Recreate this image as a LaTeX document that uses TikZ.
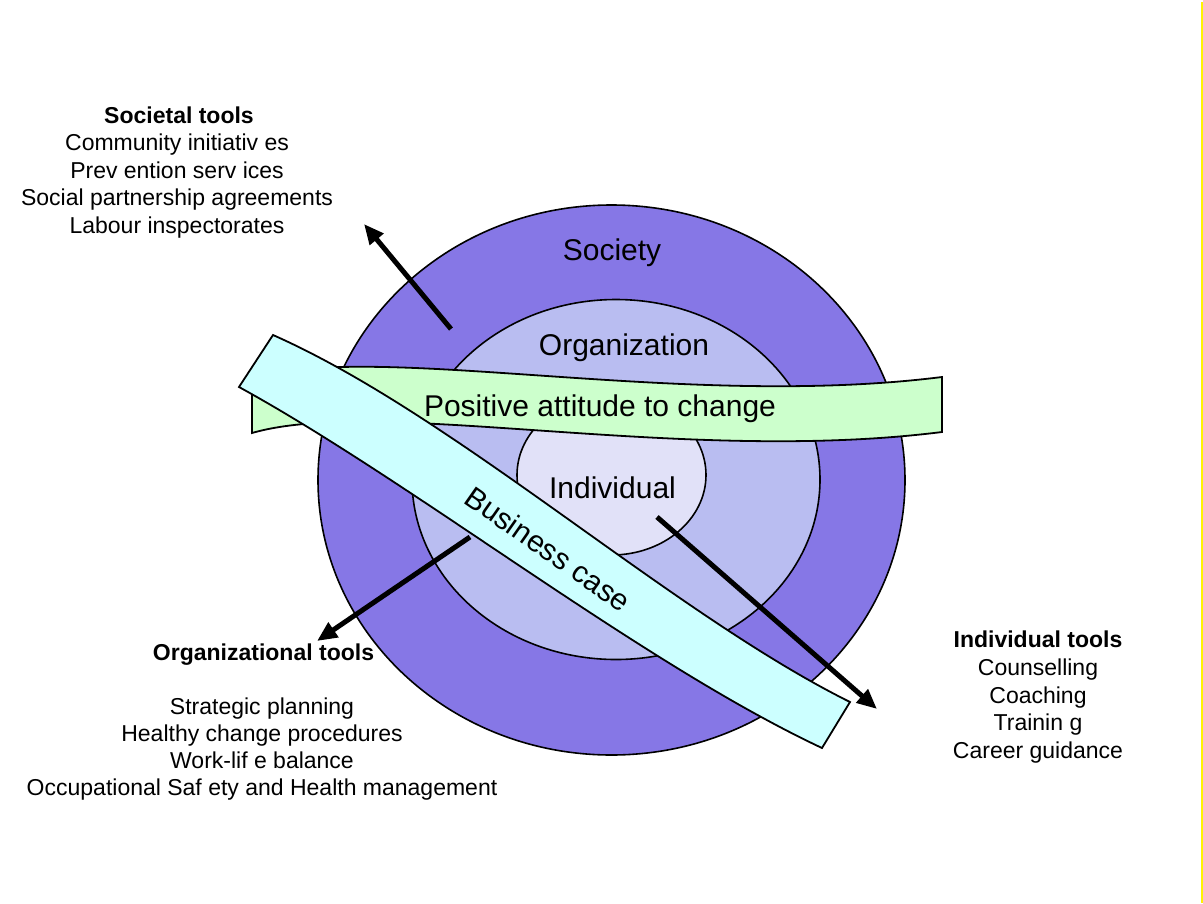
\documentclass[tikz,border=0pt]{standalone}
\usepackage{fontspec}
\setmainfont{Liberation Sans}
\usetikzlibrary{arrows.meta}
\definecolor{socfill}{RGB}{134,119,230}
\definecolor{orgfill}{RGB}{185,189,241}
\definecolor{indfill}{RGB}{225,225,248}
\definecolor{greenband}{RGB}{204,255,204}
\definecolor{cyanband}{RGB}{204,255,255}
\begin{document}
\begin{tikzpicture}[x=1pt,y=-1pt,
  ring/.style={draw=black, line width=1.6pt},
  band/.style={draw=black, line width=1.8pt, line join=miter},
  biglabel/.style={font=\fontsize{30}{36}\selectfont, inner sep=0pt, anchor=base},
  toolline/.style={font=\fontsize{23}{27}\selectfont, inner sep=0pt, anchor=base},
  toolhead/.style={font=\fontsize{23}{27}\selectfont\bfseries, inner sep=0pt, anchor=base},
  toolarrow/.style={line width=5pt, -{Triangle[length=20pt,width=17pt]}}
]
\useasboundingbox (0,0) rectangle (1203,903);
\fill[white] (0,0) rectangle (1203,903);
\draw[yellow, line width=2pt] (1201.5,2) -- (1201.5,903);

% rings
\draw[ring, fill=socfill] (611.5,480) ellipse [x radius=293.5pt, y radius=275pt];
\draw[ring, fill=orgfill] (616,479.5) ellipse [x radius=204pt, y radius=180pt];
\draw[ring, fill=indfill] (611.5,475) ellipse [x radius=94.5pt, y radius=80pt];

\node[biglabel] (society) at (612,260) {Society};
\node[biglabel] (organization) at (624,355) {Organization};
\node[biglabel] (individual) at (612.5,498) {Individual};

% arrow end points
\coordinate (socS) at (451,329);
\coordinate (socE) at (364,224);
\coordinate (orgS) at (470,537);
\coordinate (orgE) at (317,641);
\coordinate (indS) at (657,517);
\coordinate (indE) at (877,709);

% green band
\draw[band, fill=greenband] (252,378) .. controls (380,341) and (680,410) .. (942,377)
  -- (942,432) .. controls (680,465) and (380,396) .. (252,433) -- cycle;
\node[biglabel] (positive) at (600,416) {Positive attitude to change};

% cyan band
\draw[band, fill=cyanband] (273,335) .. controls (456,416) and (671,613) .. (850,702)
  -- (822,748) .. controls (641,663) and (414,483) .. (239,387) -- cycle;
\node[font=\fontsize{30}{36}\selectfont, inner sep=0pt, rotate=-35] (business) at (548,549) {Business case};

\draw[toolarrow] (socS) -- (socE);
\draw[toolarrow] (orgS) -- (orgE);
\draw[toolarrow] (indS) -- (indE);

% societal tools
\node[toolhead] (socT) at (179,123) {Societal tools};
\node[toolline] (soc1) at (177,150.5) {Community  initiativ es};
\node[toolline] (soc2) at (177,178) {Prev ention serv ices};
\node[toolline] (soc3) at (177,205.5) {Social partnership agreements};
\node[toolline] (soc4) at (177,233) {Labour inspectorates};

% organizational tools
\node[toolhead] (orgT) at (263.5,660) {Organizational tools};
\node[toolline] (org1) at (262,714.5) {Strategic planning};
\node[toolline] (org2) at (262,741) {Healthy change procedures};
\node[toolline] (org3) at (262,768) {Work-lif e balance};
\node[toolline] (org4) at (262,795) {Occupational Saf ety and Health management};

% individual tools
\node[toolhead] (indT) at (1038,647) {Individual tools};
\node[toolline] (ind1) at (1038,675) {Counselling};
\node[toolline] (ind2) at (1038,703) {Coaching};
\node[toolline] (ind3) at (1038,730.5) {Trainin g};
\node[toolline] (ind4) at (1038,758.5) {Career guidance};
\end{tikzpicture}
\end{document}
